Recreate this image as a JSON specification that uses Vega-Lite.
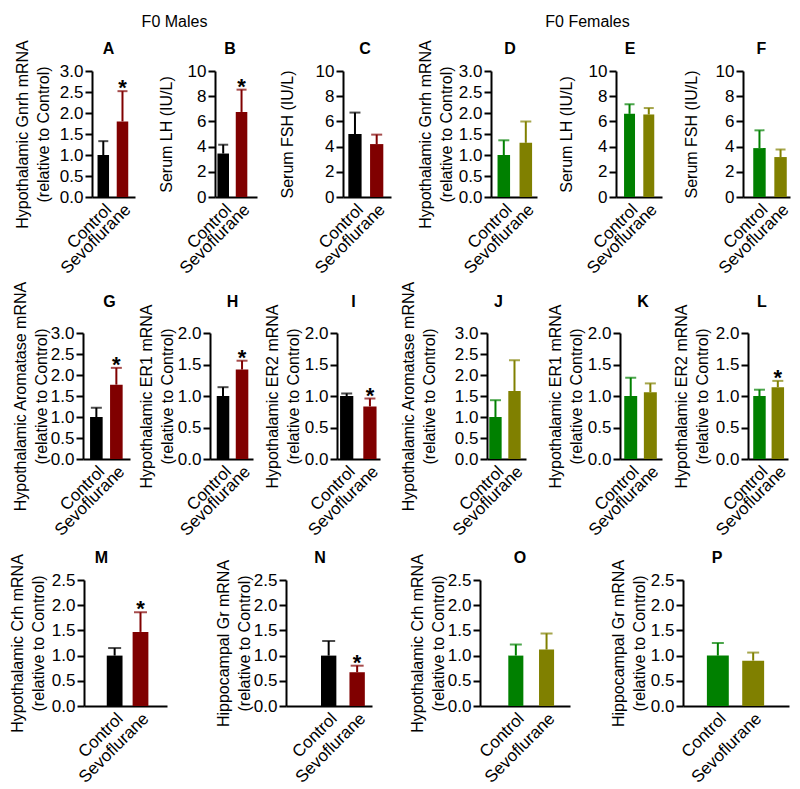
{
"$schema": "https://vega.github.io/schema/vega-lite/v6.json",
"padding": 0,
"autosize": {"type": "pad"},
"background": "white",
"config": {
 "view": {"stroke": null},
 "font": "Liberation Sans",
 "axis": {"domainColor": "black", "domainWidth": 2, "tickColor": "black", "tickWidth": 2, "labelColor": "black", "labelFontSize": 17, "titleFontSize": 16, "titleFontWeight": "normal", "titleColor": "black", "grid": false, "labelOverlap": false},
 "axisY": {"tickSize": 7, "labelPadding": 2, "titleLineHeight": 21, "labelOverlap": false},
 "axisX": {"ticks": false, "labelAngle": -45, "labelPadding": 4},
 "title": {"fontSize": 16, "fontWeight": "bold", "frame": "group", "anchor": "middle", "color": "black"}
},
"datasets": {"d": [
 {"p":"A","g":"Control","c":"MC","v":1.0,"e":1.33,"s":0},
 {"p":"A","g":"Sevoflurane","c":"MS","v":1.80,"e":2.52,"s":1},
 {"p":"B","g":"Control","c":"MC","v":3.45,"e":4.15,"s":0},
 {"p":"B","g":"Sevoflurane","c":"MS","v":6.75,"e":8.52,"s":1},
 {"p":"C","g":"Control","c":"MC","v":5.0,"e":6.7,"s":0},
 {"p":"C","g":"Sevoflurane","c":"MS","v":4.2,"e":4.95,"s":0},
 {"p":"D","g":"Control","c":"FC","v":1.0,"e":1.35,"s":0},
 {"p":"D","g":"Sevoflurane","c":"FS","v":1.29,"e":1.80,"s":0},
 {"p":"E","g":"Control","c":"FC","v":6.6,"e":7.36,"s":0},
 {"p":"E","g":"Sevoflurane","c":"FS","v":6.55,"e":7.06,"s":0},
 {"p":"F","g":"Control","c":"FC","v":3.88,"e":5.29,"s":0},
 {"p":"F","g":"Sevoflurane","c":"FS","v":3.17,"e":3.77,"s":0},
 {"p":"G","g":"Control","c":"MC","v":1.0,"e":1.22,"s":0},
 {"p":"G","g":"Sevoflurane","c":"MS","v":1.77,"e":2.17,"s":1},
 {"p":"H","g":"Control","c":"MC","v":1.0,"e":1.14,"s":0},
 {"p":"H","g":"Sevoflurane","c":"MS","v":1.42,"e":1.56,"s":1},
 {"p":"I","g":"Control","c":"MC","v":1.0,"e":1.04,"s":0},
 {"p":"I","g":"Sevoflurane","c":"MS","v":0.835,"e":0.96,"s":1},
 {"p":"J","g":"Control","c":"FC","v":1.0,"e":1.40,"s":0},
 {"p":"J","g":"Sevoflurane","c":"FS","v":1.62,"e":2.35,"s":0},
 {"p":"K","g":"Control","c":"FC","v":1.0,"e":1.29,"s":0},
 {"p":"K","g":"Sevoflurane","c":"FS","v":1.06,"e":1.2,"s":0},
 {"p":"L","g":"Control","c":"FC","v":1.0,"e":1.1,"s":0},
 {"p":"L","g":"Sevoflurane","c":"FS","v":1.14,"e":1.24,"s":1},
 {"p":"M","g":"Control","c":"MC","v":1.0,"e":1.15,"s":0},
 {"p":"M","g":"Sevoflurane","c":"MS","v":1.47,"e":1.86,"s":1},
 {"p":"N","g":"Control","c":"MC","v":1.0,"e":1.29,"s":0},
 {"p":"N","g":"Sevoflurane","c":"MS","v":0.67,"e":0.80,"s":1},
 {"p":"O","g":"Control","c":"FC","v":1.0,"e":1.22,"s":0},
 {"p":"O","g":"Sevoflurane","c":"FS","v":1.12,"e":1.44,"s":0},
 {"p":"P","g":"Control","c":"FC","v":1.0,"e":1.25,"s":0},
 {"p":"P","g":"Sevoflurane","c":"FS","v":0.9,"e":1.06,"s":0}
]},
"spacing": 0,
"resolve": {"scale": {"x": "independent", "y": "independent"}},
"vconcat": [
 {"spacing": 0, "bounds": "flush", "hconcat": [
  {"width": 100, "height": 39, "data": {"values": []}, "mark": "point"},
  {"width": 149, "height": 10, "data": {"values": []}, "mark": "point", "title": {"text": "F0 Males", "orient": "bottom", "fontWeight": "normal", "offset": 4, "baseline": "top"}},
  {"width": 251, "height": 1, "data": {"values": []}, "mark": "point"},
  {"width": 175, "height": 10, "data": {"values": []}, "mark": "point", "title": {"text": "F0 Females", "orient": "bottom", "fontWeight": "normal", "offset": 4, "baseline": "top"}}
 ]},
 {"spacing": 0, "bounds": "flush", "resolve": {"scale": {"x": "independent", "y": "independent"}}, "hconcat": [
  {"width": 92, "height": 209, "data": {"values": []}, "mark": "point"},
  {"width": 43, "height": 126, "title": {"text": "A", "dx": -5, "offset": -17}, "data": {"name": "d"}, "transform": [{"filter": "datum.p=='A'"}],
   "resolve": {"axis": {"y": "independent"}},
   "encoding": {"x": {"field": "g", "type": "nominal", "sort": ["Control","Sevoflurane"], "scale": {"paddingInner": 0.4, "paddingOuter": 0.32, "align": 0.45}, "axis": {"title": null}}},
   "layer": [
    {"mark": "bar", "encoding": {"y": {"field": "v", "type": "quantitative", "scale": {"domain": [0,3], "nice": false}, "axis": {"values": [0,0.5,1,1.5,2,2.5,3], "format": ".1f", "labelOverlap": false, "title": ["Hypothalamic Gnrh mRNA","(relative to Control)"], "titlePadding": 8}}, "color": {"field": "c", "type": "nominal", "scale": {"domain": ["MC","MS","FC","FS"], "range": ["#000000","#800000","#008000","#808000"]}, "legend": null}}},
    {"mark": {"type": "rule", "strokeWidth": 2}, "encoding": {"y": {"field": "v", "type": "quantitative", "scale": {"domain": [0,3], "nice": false}, "axis": null}, "y2": {"field": "e"}, "color": {"field": "c", "type": "nominal", "legend": null}}},
    {"mark": {"type": "tick", "thickness": 2, "size": 10}, "encoding": {"y": {"field": "e", "type": "quantitative", "scale": {"domain": [0,3], "nice": false}, "axis": null}, "color": {"field": "c", "type": "nominal", "legend": null}}},
    {"transform": [{"filter": "datum.s==1"}], "mark": {"type": "text", "text": "*", "fontSize": 22, "fontWeight": "bold", "dy": 4, "baseline": "alphabetic", "color": "black"}, "encoding": {"y": {"field": "e", "type": "quantitative", "scale": {"domain": [0,3], "nice": false}, "axis": null}}}
   ]},
  {"width": 80, "height": 1, "data": {"values": []}, "mark": "point"},
  {"width": 42, "height": 126, "title": {"text": "B", "dx": -6, "offset": 5.5}, "data": {"name": "d"}, "transform": [{"filter": "datum.p=='B'"}],
   "resolve": {"axis": {"y": "independent"}},
   "encoding": {"x": {"field": "g", "type": "nominal", "sort": ["Control","Sevoflurane"], "scale": {"paddingInner": 0.37, "paddingOuter": 0.33, "align": 0.2}, "axis": {"title": null}}},
   "layer": [
    {"mark": "bar", "encoding": {"y": {"field": "v", "type": "quantitative", "scale": {"domain": [0,10], "nice": false}, "axis": {"values": [0,2,4,6,8,10], "format": "d", "labelOverlap": false, "title": "Serum LH (IU/L)", "titlePadding": 13}}, "color": {"field": "c", "type": "nominal", "scale": {"domain": ["MC","MS","FC","FS"], "range": ["#000000","#800000","#008000","#808000"]}, "legend": null}}},
    {"mark": {"type": "rule", "strokeWidth": 2}, "encoding": {"y": {"field": "v", "type": "quantitative", "scale": {"domain": [0,10], "nice": false}, "axis": null}, "y2": {"field": "e"}, "color": {"field": "c", "type": "nominal", "legend": null}}},
    {"mark": {"type": "tick", "thickness": 2, "size": 10}, "encoding": {"y": {"field": "e", "type": "quantitative", "scale": {"domain": [0,10], "nice": false}, "axis": null}, "color": {"field": "c", "type": "nominal", "legend": null}}},
    {"transform": [{"filter": "datum.s==1"}], "mark": {"type": "text", "text": "*", "fontSize": 22, "fontWeight": "bold", "dy": 4, "baseline": "alphabetic", "color": "black"}, "encoding": {"y": {"field": "e", "type": "quantitative", "scale": {"domain": [0,10], "nice": false}, "axis": null}}}
   ]},
  {"width": 86, "height": 1, "data": {"values": []}, "mark": "point"},
  {"width": 48, "height": 126, "title": {"text": "C", "dx": -2, "offset": 5.5}, "data": {"name": "d"}, "transform": [{"filter": "datum.p=='C'"}],
   "resolve": {"axis": {"y": "independent"}},
   "encoding": {"x": {"field": "g", "type": "nominal", "sort": ["Control","Sevoflurane"], "scale": {"paddingInner": 0.39, "paddingOuter": 0.30, "align": 0.41}, "axis": {"title": null}}},
   "layer": [
    {"mark": "bar", "encoding": {"y": {"field": "v", "type": "quantitative", "scale": {"domain": [0,10], "nice": false}, "axis": {"values": [0,2,4,6,8,10], "format": "d", "labelOverlap": false, "title": "Serum FSH (IU/L)", "titlePadding": 20}}, "color": {"field": "c", "type": "nominal", "scale": {"domain": ["MC","MS","FC","FS"], "range": ["#000000","#800000","#008000","#808000"]}, "legend": null}}},
    {"mark": {"type": "rule", "strokeWidth": 2}, "encoding": {"y": {"field": "v", "type": "quantitative", "scale": {"domain": [0,10], "nice": false}, "axis": null}, "y2": {"field": "e"}, "color": {"field": "c", "type": "nominal", "legend": null}}},
    {"mark": {"type": "tick", "thickness": 2, "size": 11}, "encoding": {"y": {"field": "e", "type": "quantitative", "scale": {"domain": [0,10], "nice": false}, "axis": null}, "color": {"field": "c", "type": "nominal", "legend": null}}}
   ]},
  {"width": 100, "height": 1, "data": {"values": []}, "mark": "point"},
  {"width": 46, "height": 126, "title": {"text": "D", "dx": -4, "offset": -17}, "data": {"name": "d"}, "transform": [{"filter": "datum.p=='D'"}],
   "resolve": {"axis": {"y": "independent"}},
   "encoding": {"x": {"field": "g", "type": "nominal", "sort": ["Control","Sevoflurane"], "scale": {"paddingInner": 0.43, "paddingOuter": 0.26, "align": 0.57}, "axis": {"title": null}}},
   "layer": [
    {"mark": "bar", "encoding": {"y": {"field": "v", "type": "quantitative", "scale": {"domain": [0,3], "nice": false}, "axis": {"values": [0,0.5,1,1.5,2,2.5,3], "format": ".1f", "labelOverlap": false, "title": ["Hypothalamic Gnrh mRNA","(relative to Control)"], "titlePadding": 4}}, "color": {"field": "c", "type": "nominal", "scale": {"domain": ["MC","MS","FC","FS"], "range": ["#000000","#800000","#008000","#808000"]}, "legend": null}}},
    {"mark": {"type": "rule", "strokeWidth": 2}, "encoding": {"y": {"field": "v", "type": "quantitative", "scale": {"domain": [0,3], "nice": false}, "axis": null}, "y2": {"field": "e"}, "color": {"field": "c", "type": "nominal", "legend": null}}},
    {"mark": {"type": "tick", "thickness": 2, "size": 11}, "encoding": {"y": {"field": "e", "type": "quantitative", "scale": {"domain": [0,3], "nice": false}, "axis": null}, "color": {"field": "c", "type": "nominal", "legend": null}}}
   ]},
  {"width": 79, "height": 1, "data": {"values": []}, "mark": "point"},
  {"width": 46, "height": 126, "title": {"text": "E", "dx": -9, "offset": 5.5}, "data": {"name": "d"}, "transform": [{"filter": "datum.p=='E'"}],
   "resolve": {"axis": {"y": "independent"}},
   "encoding": {"x": {"field": "g", "type": "nominal", "sort": ["Control","Sevoflurane"], "scale": {"paddingInner": 0.43, "paddingOuter": 0.41, "align": 0.51}, "axis": {"title": null}}},
   "layer": [
    {"mark": "bar", "encoding": {"y": {"field": "v", "type": "quantitative", "scale": {"domain": [0,10], "nice": false}, "axis": {"values": [0,2,4,6,8,10], "format": "d", "labelOverlap": false, "title": "Serum LH (IU/L)", "titlePadding": 14}}, "color": {"field": "c", "type": "nominal", "scale": {"domain": ["MC","MS","FC","FS"], "range": ["#000000","#800000","#008000","#808000"]}, "legend": null}}},
    {"mark": {"type": "rule", "strokeWidth": 2}, "encoding": {"y": {"field": "v", "type": "quantitative", "scale": {"domain": [0,10], "nice": false}, "axis": null}, "y2": {"field": "e"}, "color": {"field": "c", "type": "nominal", "legend": null}}},
    {"mark": {"type": "tick", "thickness": 2, "size": 10}, "encoding": {"y": {"field": "e", "type": "quantitative", "scale": {"domain": [0,10], "nice": false}, "axis": null}, "color": {"field": "c", "type": "nominal", "legend": null}}}
   ]},
  {"width": 81, "height": 1, "data": {"values": []}, "mark": "point"},
  {"width": 47, "height": 126, "title": {"text": "F", "dx": -5, "offset": 5.5}, "data": {"name": "d"}, "transform": [{"filter": "datum.p=='F'"}],
   "resolve": {"axis": {"y": "independent"}},
   "encoding": {"x": {"field": "g", "type": "nominal", "sort": ["Control","Sevoflurane"], "scale": {"paddingInner": 0.41, "paddingOuter": 0.32, "align": 0.76}, "axis": {"title": null}}},
   "layer": [
    {"mark": "bar", "encoding": {"y": {"field": "v", "type": "quantitative", "scale": {"domain": [0,10], "nice": false}, "axis": {"values": [0,2,4,6,8,10], "format": "d", "labelOverlap": false, "title": "Serum FSH (IU/L)", "titlePadding": 16}}, "color": {"field": "c", "type": "nominal", "scale": {"domain": ["MC","MS","FC","FS"], "range": ["#000000","#800000","#008000","#808000"]}, "legend": null}}},
    {"mark": {"type": "rule", "strokeWidth": 2}, "encoding": {"y": {"field": "v", "type": "quantitative", "scale": {"domain": [0,10], "nice": false}, "axis": null}, "y2": {"field": "e"}, "color": {"field": "c", "type": "nominal", "legend": null}}},
    {"mark": {"type": "tick", "thickness": 2, "size": 10}, "encoding": {"y": {"field": "e", "type": "quantitative", "scale": {"domain": [0,10], "nice": false}, "axis": null}, "color": {"field": "c", "type": "nominal", "legend": null}}}
   ]}
 ]},
 {"spacing": 0, "bounds": "flush", "resolve": {"scale": {"x": "independent", "y": "independent"}}, "hconcat": [
  {"width": 83, "height": 217, "data": {"values": []}, "mark": "point"},
  {"width": 47, "height": 126, "title": {"text": "G", "dx": 3, "offset": -29.5}, "data": {"name": "d"}, "transform": [{"filter": "datum.p=='G'"}],
   "resolve": {"axis": {"y": "independent"}},
   "encoding": {"x": {"field": "g", "type": "nominal", "sort": ["Control","Sevoflurane"], "scale": {"paddingInner": 0.37, "paddingOuter": 0.36, "align": 0.49}, "axis": {"title": null}}},
   "layer": [
    {"mark": "bar", "encoding": {"y": {"field": "v", "type": "quantitative", "scale": {"domain": [0,3], "nice": false}, "axis": {"values": [0,0.5,1,1.5,2,2.5,3], "format": ".1f", "labelOverlap": false, "title": ["Hypothalamic Aromatase mRNA","(relative to Control)"], "titlePadding": 1}}, "color": {"field": "c", "type": "nominal", "scale": {"domain": ["MC","MS","FC","FS"], "range": ["#000000","#800000","#008000","#808000"]}, "legend": null}}},
    {"mark": {"type": "rule", "strokeWidth": 2}, "encoding": {"y": {"field": "v", "type": "quantitative", "scale": {"domain": [0,3], "nice": false}, "axis": null}, "y2": {"field": "e"}, "color": {"field": "c", "type": "nominal", "legend": null}}},
    {"mark": {"type": "tick", "thickness": 2, "size": 11}, "encoding": {"y": {"field": "e", "type": "quantitative", "scale": {"domain": [0,3], "nice": false}, "axis": null}, "color": {"field": "c", "type": "nominal", "legend": null}}},
    {"transform": [{"filter": "datum.s==1"}], "mark": {"type": "text", "text": "*", "fontSize": 22, "fontWeight": "bold", "dy": 4, "baseline": "alphabetic", "color": "black"}, "encoding": {"y": {"field": "e", "type": "quantitative", "scale": {"domain": [0,3], "nice": false}, "axis": null}}}
   ]},
  {"width": 80, "height": 1, "data": {"values": []}, "mark": "point"},
  {"width": 43, "height": 126, "title": {"text": "H", "dx": 1, "offset": -6.4}, "data": {"name": "d"}, "transform": [{"filter": "datum.p=='H'"}],
   "resolve": {"axis": {"y": "independent"}},
   "encoding": {"x": {"field": "g", "type": "nominal", "sort": ["Control","Sevoflurane"], "scale": {"paddingInner": 0.34, "paddingOuter": 0.30, "align": 0.59}, "axis": {"title": null}}},
   "layer": [
    {"mark": "bar", "encoding": {"y": {"field": "v", "type": "quantitative", "scale": {"domain": [0,2], "nice": false}, "axis": {"values": [0,0.5,1,1.5,2], "format": ".1f", "labelOverlap": false, "title": ["Hypothalamic ER1 mRNA","(relative to Control)"], "titlePadding": 2}}, "color": {"field": "c", "type": "nominal", "scale": {"domain": ["MC","MS","FC","FS"], "range": ["#000000","#800000","#008000","#808000"]}, "legend": null}}},
    {"mark": {"type": "rule", "strokeWidth": 2}, "encoding": {"y": {"field": "v", "type": "quantitative", "scale": {"domain": [0,2], "nice": false}, "axis": null}, "y2": {"field": "e"}, "color": {"field": "c", "type": "nominal", "legend": null}}},
    {"mark": {"type": "tick", "thickness": 2, "size": 11}, "encoding": {"y": {"field": "e", "type": "quantitative", "scale": {"domain": [0,2], "nice": false}, "axis": null}, "color": {"field": "c", "type": "nominal", "legend": null}}},
    {"transform": [{"filter": "datum.s==1"}], "mark": {"type": "text", "text": "*", "fontSize": 22, "fontWeight": "bold", "dy": 4, "baseline": "alphabetic", "color": "black"}, "encoding": {"y": {"field": "e", "type": "quantitative", "scale": {"domain": [0,2], "nice": false}, "axis": null}}}
   ]},
  {"width": 84, "height": 1, "data": {"values": []}, "mark": "point"},
  {"width": 43, "height": 126, "title": {"text": "I", "dx": -5, "offset": -6.4}, "data": {"name": "d"}, "transform": [{"filter": "datum.p=='I'"}],
   "resolve": {"axis": {"y": "independent"}},
   "encoding": {"x": {"field": "g", "type": "nominal", "sort": ["Control","Sevoflurane"], "scale": {"paddingInner": 0.43, "paddingOuter": 0.14, "align": 0.47}, "axis": {"title": null}}},
   "layer": [
    {"mark": "bar", "encoding": {"y": {"field": "v", "type": "quantitative", "scale": {"domain": [0,2], "nice": false}, "axis": {"values": [0,0.5,1,1.5,2], "format": ".1f", "labelOverlap": false, "title": ["Hypothalamic ER2 mRNA","(relative to Control)"], "titlePadding": 3}}, "color": {"field": "c", "type": "nominal", "scale": {"domain": ["MC","MS","FC","FS"], "range": ["#000000","#800000","#008000","#808000"]}, "legend": null}}},
    {"mark": {"type": "rule", "strokeWidth": 2}, "encoding": {"y": {"field": "v", "type": "quantitative", "scale": {"domain": [0,2], "nice": false}, "axis": null}, "y2": {"field": "e"}, "color": {"field": "c", "type": "nominal", "legend": null}}},
    {"mark": {"type": "tick", "thickness": 2, "size": 11}, "encoding": {"y": {"field": "e", "type": "quantitative", "scale": {"domain": [0,2], "nice": false}, "axis": null}, "color": {"field": "c", "type": "nominal", "legend": null}}},
    {"transform": [{"filter": "datum.s==1"}], "mark": {"type": "text", "text": "*", "fontSize": 22, "fontWeight": "bold", "dy": 4, "baseline": "alphabetic", "color": "black"}, "encoding": {"y": {"field": "e", "type": "quantitative", "scale": {"domain": [0,2], "nice": false}, "axis": null}}}
   ]},
  {"width": 107, "height": 1, "data": {"values": []}, "mark": "point"},
  {"width": 39, "height": 126, "title": {"text": "J", "dx": -8, "offset": -29.5}, "data": {"name": "d"}, "transform": [{"filter": "datum.p=='J'"}],
   "resolve": {"axis": {"y": "independent"}},
   "encoding": {"x": {"field": "g", "type": "nominal", "sort": ["Control","Sevoflurane"], "scale": {"paddingInner": 0.35, "paddingOuter": 0.2, "align": 0.3}, "axis": {"title": null}}},
   "layer": [
    {"mark": "bar", "encoding": {"y": {"field": "v", "type": "quantitative", "scale": {"domain": [0,3], "nice": false}, "axis": {"values": [0,0.5,1,1.5,2,2.5,3], "format": ".1f", "labelOverlap": false, "title": ["Hypothalamic Aromatase mRNA","(relative to Control)"], "titlePadding": 17}}, "color": {"field": "c", "type": "nominal", "scale": {"domain": ["MC","MS","FC","FS"], "range": ["#000000","#800000","#008000","#808000"]}, "legend": null}}},
    {"mark": {"type": "rule", "strokeWidth": 2}, "encoding": {"y": {"field": "v", "type": "quantitative", "scale": {"domain": [0,3], "nice": false}, "axis": null}, "y2": {"field": "e"}, "color": {"field": "c", "type": "nominal", "legend": null}}},
    {"mark": {"type": "tick", "thickness": 2, "size": 11}, "encoding": {"y": {"field": "e", "type": "quantitative", "scale": {"domain": [0,3], "nice": false}, "axis": null}, "color": {"field": "c", "type": "nominal", "legend": null}}}
   ]},
  {"width": 94, "height": 1, "data": {"values": []}, "mark": "point"},
  {"width": 42, "height": 126, "title": {"text": "K", "dx": 2, "offset": -6.4}, "data": {"name": "d"}, "transform": [{"filter": "datum.p=='K'"}],
   "resolve": {"axis": {"y": "independent"}},
   "encoding": {"x": {"field": "g", "type": "nominal", "sort": ["Control","Sevoflurane"], "scale": {"paddingInner": 0.34, "paddingOuter": 0.24, "align": 0.45}, "axis": {"title": null}}},
   "layer": [
    {"mark": "bar", "encoding": {"y": {"field": "v", "type": "quantitative", "scale": {"domain": [0,2], "nice": false}, "axis": {"values": [0,0.5,1,1.5,2], "format": ".1f", "labelOverlap": false, "title": ["Hypothalamic ER1 mRNA","(relative to Control)"], "titlePadding": 3}}, "color": {"field": "c", "type": "nominal", "scale": {"domain": ["MC","MS","FC","FS"], "range": ["#000000","#800000","#008000","#808000"]}, "legend": null}}},
    {"mark": {"type": "rule", "strokeWidth": 2}, "encoding": {"y": {"field": "v", "type": "quantitative", "scale": {"domain": [0,2], "nice": false}, "axis": null}, "y2": {"field": "e"}, "color": {"field": "c", "type": "nominal", "legend": null}}},
    {"mark": {"type": "tick", "thickness": 2, "size": 11}, "encoding": {"y": {"field": "e", "type": "quantitative", "scale": {"domain": [0,2], "nice": false}, "axis": null}, "color": {"field": "c", "type": "nominal", "legend": null}}}
   ]},
  {"width": 86, "height": 1, "data": {"values": []}, "mark": "point"},
  {"width": 40, "height": 126, "title": {"text": "L", "dx": -6, "offset": -6.4}, "data": {"name": "d"}, "transform": [{"filter": "datum.p=='L'"}],
   "resolve": {"axis": {"y": "independent"}},
   "encoding": {"x": {"field": "g", "type": "nominal", "sort": ["Control","Sevoflurane"], "scale": {"paddingInner": 0.32, "paddingOuter": 0.25, "align": 0.57}, "axis": {"title": null}}},
   "layer": [
    {"mark": "bar", "encoding": {"y": {"field": "v", "type": "quantitative", "scale": {"domain": [0,2], "nice": false}, "axis": {"values": [0,0.5,1,1.5,2], "format": ".1f", "labelOverlap": false, "title": ["Hypothalamic ER2 mRNA","(relative to Control)"], "titlePadding": 5}}, "color": {"field": "c", "type": "nominal", "scale": {"domain": ["MC","MS","FC","FS"], "range": ["#000000","#800000","#008000","#808000"]}, "legend": null}}},
    {"mark": {"type": "rule", "strokeWidth": 2}, "encoding": {"y": {"field": "v", "type": "quantitative", "scale": {"domain": [0,2], "nice": false}, "axis": null}, "y2": {"field": "e"}, "color": {"field": "c", "type": "nominal", "legend": null}}},
    {"mark": {"type": "tick", "thickness": 2, "size": 11}, "encoding": {"y": {"field": "e", "type": "quantitative", "scale": {"domain": [0,2], "nice": false}, "axis": null}, "color": {"field": "c", "type": "nominal", "legend": null}}},
    {"transform": [{"filter": "datum.s==1"}], "mark": {"type": "text", "text": "*", "fontSize": 22, "fontWeight": "bold", "dy": 4, "baseline": "alphabetic", "color": "black"}, "encoding": {"y": {"field": "e", "type": "quantitative", "scale": {"domain": [0,2], "nice": false}, "axis": null}}}
   ]}
 ]},
 {"spacing": 0, "bounds": "flush", "resolve": {"scale": {"x": "independent", "y": "independent"}}, "hconcat": [
  {"width": 84, "height": 1, "data": {"values": []}, "mark": "point"},
  {"width": 83, "height": 126, "title": {"text": "M", "dx": -24, "offset": -12.7}, "data": {"name": "d"}, "transform": [{"filter": "datum.p=='M'"}],
   "resolve": {"axis": {"y": "independent"}},
   "encoding": {"x": {"field": "g", "type": "nominal", "sort": ["Control","Sevoflurane"], "scale": {"paddingInner": 0.39, "paddingOuter": 0.8, "align": 0.55}, "axis": {"title": null}}},
   "layer": [
    {"mark": "bar", "encoding": {"y": {"field": "v", "type": "quantitative", "scale": {"domain": [0,2.5], "nice": false}, "axis": {"values": [0,0.5,1,1.5,2,2.5], "format": ".1f", "labelOverlap": false, "title": ["Hypothalamic Crh mRNA","(relative to Control)"], "titlePadding": 5}}, "color": {"field": "c", "type": "nominal", "scale": {"domain": ["MC","MS","FC","FS"], "range": ["#000000","#800000","#008000","#808000"]}, "legend": null}}},
    {"mark": {"type": "rule", "strokeWidth": 2}, "encoding": {"y": {"field": "v", "type": "quantitative", "scale": {"domain": [0,2.5], "nice": false}, "axis": null}, "y2": {"field": "e"}, "color": {"field": "c", "type": "nominal", "legend": null}}},
    {"mark": {"type": "tick", "thickness": 2, "size": 13}, "encoding": {"y": {"field": "e", "type": "quantitative", "scale": {"domain": [0,2.5], "nice": false}, "axis": null}, "color": {"field": "c", "type": "nominal", "legend": null}}},
    {"transform": [{"filter": "datum.s==1"}], "mark": {"type": "text", "text": "*", "fontSize": 22, "fontWeight": "bold", "dy": 4, "baseline": "alphabetic", "color": "black"}, "encoding": {"y": {"field": "e", "type": "quantitative", "scale": {"domain": [0,2.5], "nice": false}, "axis": null}}}
   ]},
  {"width": 119, "height": 1, "data": {"values": []}, "mark": "point"},
  {"width": 86, "height": 126, "title": {"text": "N", "dx": -9, "offset": -6.9}, "data": {"name": "d"}, "transform": [{"filter": "datum.p=='N'"}],
   "resolve": {"axis": {"y": "independent"}},
   "encoding": {"x": {"field": "g", "type": "nominal", "sort": ["Control","Sevoflurane"], "scale": {"paddingInner": 0.46, "paddingOuter": 0.74, "align": 0.83}, "axis": {"title": null}}},
   "layer": [
    {"mark": "bar", "encoding": {"y": {"field": "v", "type": "quantitative", "scale": {"domain": [0,2.5], "nice": false}, "axis": {"values": [0,0.5,1,1.5,2,2.5], "format": ".1f", "labelOverlap": false, "title": ["Hippocampal Gr mRNA","(relative to Control)"], "titlePadding": 1}}, "color": {"field": "c", "type": "nominal", "scale": {"domain": ["MC","MS","FC","FS"], "range": ["#000000","#800000","#008000","#808000"]}, "legend": null}}},
    {"mark": {"type": "rule", "strokeWidth": 2}, "encoding": {"y": {"field": "v", "type": "quantitative", "scale": {"domain": [0,2.5], "nice": false}, "axis": null}, "y2": {"field": "e"}, "color": {"field": "c", "type": "nominal", "legend": null}}},
    {"mark": {"type": "tick", "thickness": 2, "size": 13}, "encoding": {"y": {"field": "e", "type": "quantitative", "scale": {"domain": [0,2.5], "nice": false}, "axis": null}, "color": {"field": "c", "type": "nominal", "legend": null}}},
    {"transform": [{"filter": "datum.s==1"}], "mark": {"type": "text", "text": "*", "fontSize": 22, "fontWeight": "bold", "dy": 4, "baseline": "alphabetic", "color": "black"}, "encoding": {"y": {"field": "e", "type": "quantitative", "scale": {"domain": [0,2.5], "nice": false}, "axis": null}}}
   ]},
  {"width": 108, "height": 1, "data": {"values": []}, "mark": "point"},
  {"width": 90, "height": 126, "title": {"text": "O", "dx": -5, "offset": -12.7}, "data": {"name": "d"}, "transform": [{"filter": "datum.p=='O'"}],
   "resolve": {"axis": {"y": "independent"}},
   "encoding": {"x": {"field": "g", "type": "nominal", "sort": ["Control","Sevoflurane"], "scale": {"paddingInner": 0.51, "paddingOuter": 0.72, "align": 0.64}, "axis": {"title": null}}},
   "layer": [
    {"mark": "bar", "encoding": {"y": {"field": "v", "type": "quantitative", "scale": {"domain": [0,2.5], "nice": false}, "axis": {"values": [0,0.5,1,1.5,2,2.5], "format": ".1f", "labelOverlap": false, "title": ["Hypothalamic Crh mRNA","(relative to Control)"], "titlePadding": 1}}, "color": {"field": "c", "type": "nominal", "scale": {"domain": ["MC","MS","FC","FS"], "range": ["#000000","#800000","#008000","#808000"]}, "legend": null}}},
    {"mark": {"type": "rule", "strokeWidth": 2}, "encoding": {"y": {"field": "v", "type": "quantitative", "scale": {"domain": [0,2.5], "nice": false}, "axis": null}, "y2": {"field": "e"}, "color": {"field": "c", "type": "nominal", "legend": null}}},
    {"mark": {"type": "tick", "thickness": 2, "size": 12}, "encoding": {"y": {"field": "e", "type": "quantitative", "scale": {"domain": [0,2.5], "nice": false}, "axis": null}, "color": {"field": "c", "type": "nominal", "legend": null}}}
   ]},
  {"width": 113, "height": 1, "data": {"values": []}, "mark": "point"},
  {"width": 106, "height": 126, "title": {"text": "P", "dx": -19, "offset": -6.9}, "data": {"name": "d"}, "transform": [{"filter": "datum.p=='P'"}],
   "resolve": {"axis": {"y": "independent"}},
   "encoding": {"x": {"field": "g", "type": "nominal", "sort": ["Control","Sevoflurane"], "scale": {"paddingInner": 0.38, "paddingOuter": 0.69, "align": 0.49}, "axis": {"title": null}}},
   "layer": [
    {"mark": "bar", "encoding": {"y": {"field": "v", "type": "quantitative", "scale": {"domain": [0,2.5], "nice": false}, "axis": {"values": [0,0.5,1,1.5,2,2.5], "format": ".1f", "labelOverlap": false, "title": ["Hippocampal Gr mRNA","(relative to Control)"], "titlePadding": 3}}, "color": {"field": "c", "type": "nominal", "scale": {"domain": ["MC","MS","FC","FS"], "range": ["#000000","#800000","#008000","#808000"]}, "legend": null}}},
    {"mark": {"type": "rule", "strokeWidth": 2}, "encoding": {"y": {"field": "v", "type": "quantitative", "scale": {"domain": [0,2.5], "nice": false}, "axis": null}, "y2": {"field": "e"}, "color": {"field": "c", "type": "nominal", "legend": null}}},
    {"mark": {"type": "tick", "thickness": 2, "size": 12}, "encoding": {"y": {"field": "e", "type": "quantitative", "scale": {"domain": [0,2.5], "nice": false}, "axis": null}, "color": {"field": "c", "type": "nominal", "legend": null}}}
   ]}
 ]}
]
}
